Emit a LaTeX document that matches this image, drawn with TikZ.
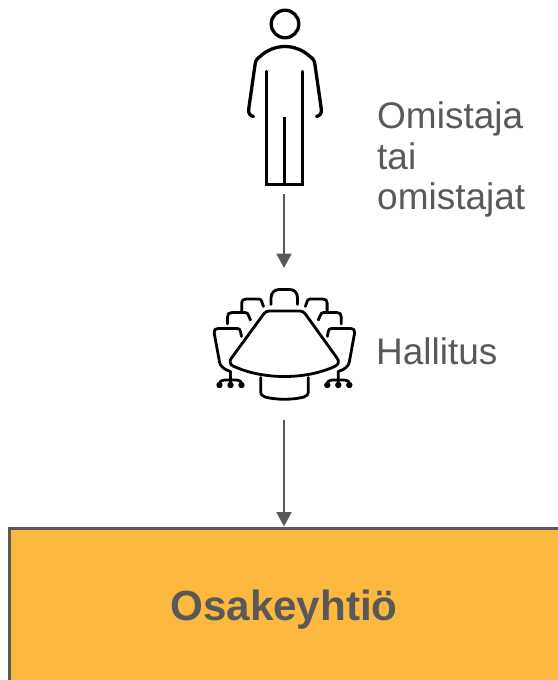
\documentclass[tikz,border=0pt]{standalone}
\usepackage{fontspec}
\setmainfont{Liberation Sans}
\usetikzlibrary{arrows.meta}
\definecolor{txtgrey}{HTML}{595959}
\definecolor{boxfill}{HTML}{FDB93F}
\tikzset{
  icon/.style={draw=black,line width=3.3pt,line cap=round,line join=round},
  iconthin/.style={draw=black,line width=2.8pt,line cap=round,line join=round},
  lbl/.style={text=txtgrey,inner sep=0pt,anchor=north west,align=left,font=\fontsize{37}{40.5}\selectfont},
  flow/.style={draw=txtgrey,line width=2.3pt,-{Triangle[length=14.5pt,width=15pt]},shorten >=0pt},
  company/.style={draw=txtgrey,line width=3pt,fill=boxfill,minimum width=550pt,minimum height=164pt,inner sep=0pt,text=txtgrey,font=\fontsize{42.2}{48}\selectfont\bfseries}
}
\newcommand{\halfchairs}{%
  \draw[iconthin] (263.5,306.5) -- (261.5,301) .. controls (261,299.5) and (260,299) .. (258,299) -- (246,299) .. controls (243,299) and (241.7,300.5) .. (241.7,303) -- (241.7,311);
  \draw[iconthin] (250.5,320) -- (248.5,315.5) .. controls (248,313.5) and (247,312.5) .. (245,312.5) -- (232,312.5) .. controls (229,312.5) and (227.5,314) .. (227.5,317) -- (227.5,324);
  \draw[iconthin] (241.5,336.5) -- (240.5,331.5) .. controls (240,329) and (239,328.5) .. (237,328.5) -- (218,328.5) .. controls (215,328.5) and (213.8,330) .. (214.2,333) -- (219.5,362) .. controls (220,366) and (224,369.5) .. (230.5,371.5) -- (230.5,382);
  \draw[iconthin] (219.5,385) .. controls (219.5,381.5) and (221,380) .. (224,380) -- (237,380) .. controls (240,380) and (241.5,381.5) .. (241.5,385);
  \fill (219.5,385) circle (3.2pt) (230.5,385) circle (3.2pt) (241.5,385) circle (3.2pt);
}
\begin{document}
\begin{tikzpicture}[x=1pt,y=-1pt]
\useasboundingbox (0,0) rectangle (557,680);
% owner icon
\draw[icon] (285,24) circle (13.8pt);
\draw[icon] (253.5,116.5) .. controls (249.5,115.5) and (248.3,113) .. (248.7,109) -- (255,65) .. controls (255.5,60) and (257,59) .. (260,56.5) .. controls (267,50) and (276,46.5) .. (285,46.5) .. controls (294,46.5) and (303,50) .. (310,56.5) .. controls (313,59) and (314.5,60) .. (315,65) -- (321.3,109) .. controls (321.7,113) and (320.5,115.5) .. (316.5,116.5);
\draw[icon,line join=miter] (266.7,71.5) -- (266.7,184.8) -- (302.5,184.8) -- (302.5,71.5);
\draw[icon,line cap=butt] (284.6,117) -- (284.6,184.8);
% table icon
\draw[iconthin] (271,304.5) -- (271,298) .. controls (271,292.5) and (275,289.5) .. (279,289.5) -- (290,289.5) .. controls (294,289.5) and (297.5,292.5) .. (297.5,298) -- (297.5,304.5);
\draw[iconthin] (269,311) .. controls (267,311) and (265.5,312) .. (264,313.5) -- (231.5,358) .. controls (229,361.5) and (230,364.5) .. (233,366) .. controls (248,373) and (266,376.5) .. (284.5,376.5) .. controls (303,376.5) and (321,373) .. (335.5,366) .. controls (338.5,364.5) and (339.5,361.5) .. (337,358) -- (305,313.5) .. controls (303.5,312) and (302,311) .. (300,311) -- cycle;
\draw[iconthin] (260.7,377.5) -- (260.7,391) .. controls (260.7,394.5) and (262,396) .. (265,397) .. controls (276,400) and (293,400) .. (304,397) .. controls (307,396) and (308.3,394.5) .. (308.3,391) -- (308.3,377.5);
\halfchairs
\begin{scope}[xshift=568.8pt,xscale=-1]
\halfchairs
\end{scope}
% anchors of the connectors
\coordinate (ownerFoot) at (284,194);
\coordinate (boardTop) at (284,268);
\coordinate (boardFoot) at (284,420);
% labels
\node[lbl] (ownerLabel) at (377,101.5) {Omistaja\\tai\\omistajat};
\node[lbl] (boardLabel) at (376,337.5) {Hallitus};
% company
\node[company] (company) at (284,610) {Osakeyhtiö};
% connectors
\draw[flow] (ownerFoot) -- (boardTop);
\draw[flow] (boardFoot) -- (company.north);
\end{tikzpicture}
\end{document}
